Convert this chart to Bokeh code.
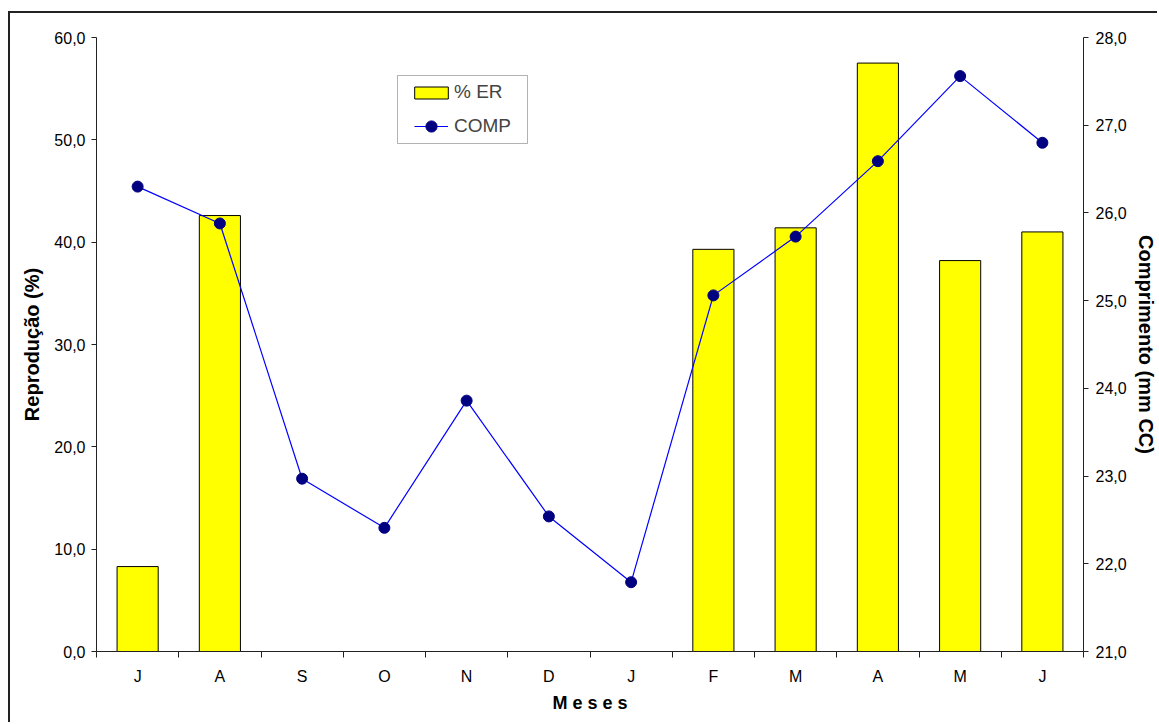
from bokeh.plotting import figure
from bokeh.models import (Range1d, LinearAxis, FixedTicker, CustomJSTickFormatter,
                          Legend, LegendItem, ColumnDataSource, BoxAnnotation)
from bokeh.embed import file_html
from bokeh.resources import INLINE

# Monthly data
months = ["J", "A", "S", "O", "N", "D", "J", "F", "M", "A", "M", "J"]
er_pct = [8.3, 42.6, 0, 0, 0, 0, 0, 39.3, 41.4, 57.5, 38.2, 41.0]
comp_mm = [26.30, 25.88, 22.97, 22.41, 23.86, 22.54, 21.79, 25.06, 25.73, 26.59, 27.56, 26.80]

FONT = "Liberation Sans"
AXIS_COLOR = "#222222"

xc = [i + 0.5 for i in range(len(months))]
bar_idx = [i for i, v in enumerate(er_pct) if v > 0]
bars = ColumnDataSource(dict(x=[xc[i] for i in bar_idx], top=[er_pct[i] for i in bar_idx]))
line = ColumnDataSource(dict(x=xc, y=comp_mm))

p = figure(width=1149, height=711, output_backend="svg", toolbar_location=None,
           x_range=Range1d(0, len(months)), y_range=Range1d(0, 60),
           min_border_left=86, min_border_right=76, min_border_top=24, min_border_bottom=73)
# page frame: left and top edges
p.styles = {"margin-left": "8px", "margin-top": "11px",
            "border-left": "2px solid #222222", "border-top": "2px solid #222222"}
p.extra_y_ranges = {"comp": Range1d(21, 28)}
p.xgrid.visible = False
p.ygrid.visible = False
p.outline_line_color = None
p.background_fill_color = "white"
p.border_fill_color = "white"

vb = p.vbar(x="x", top="top", width=0.5, source=bars, fill_color="#FFFF00",
            line_color="black", line_width=1)
ln = p.line(x="x", y="y", source=line, line_color="#0000FF", line_width=1.2,
            y_range_name="comp")
sc = p.scatter(x="x", y="y", source=line, size=11, fill_color="#000080",
               line_color="#000080", y_range_name="comp")

comma_fmt = CustomJSTickFormatter(code="return tick.toFixed(1).replace('.', ',');")

# left axis
ya = p.yaxis[0]
ya.ticker = FixedTicker(ticks=[0, 10, 20, 30, 40, 50, 60], minor_ticks=[])
ya.formatter = comma_fmt
ya.axis_label = "Reprodução (%)"

# right axis
ra = LinearAxis(y_range_name="comp", axis_label="Comprimento (mm CC)")
ra.ticker = FixedTicker(ticks=[21, 22, 23, 24, 25, 26, 27, 28], minor_ticks=[])
ra.formatter = comma_fmt
p.add_layout(ra, "right")

# bottom axis: labels at month centres, ticks at month boundaries
xa = p.xaxis[0]
xa.ticker = FixedTicker(ticks=xc, minor_ticks=list(range(len(months) + 1)))
xa.formatter = CustomJSTickFormatter(args=dict(labels=months),
                                     code="return labels[Math.floor(tick)];")
xa.axis_label = "M e s e s"

for ax in (ya, ra, xa):
    ax.axis_line_color = AXIS_COLOR
    ax.major_tick_line_color = AXIS_COLOR
    ax.minor_tick_line_color = AXIS_COLOR
    ax.major_label_text_font = FONT
    ax.major_label_text_font_size = "16px"
    ax.major_label_text_color = "black"
    ax.axis_label_text_font = FONT
    ax.axis_label_text_font_style = "bold"
    ax.axis_label_text_font_size = "20px"
    ax.axis_label_text_color = "black"

for ax in (ya, ra):
    ax.major_tick_in = 0
    ax.major_tick_out = 5
    ax.minor_tick_out = 0

ya.major_label_standoff = 6
ya.axis_label_standoff = 8
ra.major_label_standoff = 7
ra.axis_label_standoff = 5

xa.major_tick_in = 0
xa.major_tick_out = 0
xa.minor_tick_in = 0
xa.minor_tick_out = 6
xa.major_label_standoff = 10
xa.axis_label_standoff = 5
xa.axis_label_text_font_size = "18px"

# legend frame (screen offsets from the plot area's lower-left corner)
p.add_layout(BoxAnnotation(left=301, right=431, bottom=508, top=576,
                           left_units="screen", right_units="screen",
                           top_units="screen", bottom_units="screen",
                           fill_color="white", fill_alpha=1,
                           line_color="black", line_width=1))


def legend_box(item, loc, gw, gh, standoff):
    lg = Legend(items=[item], location=loc, orientation="vertical")
    lg.border_line_color = None
    lg.background_fill_alpha = 0
    lg.label_text_font = FONT
    lg.label_text_font_size = "19px"
    lg.glyph_width = gw
    lg.glyph_height = gh
    lg.label_standoff = standoff
    lg.label_height = 22
    lg.padding = 0
    lg.margin = 0
    return lg


p.add_layout(legend_box(LegendItem(label="% ER", renderers=[vb]), (314, 548), 42, 15, 2), "center")
p.add_layout(legend_box(LegendItem(label="COMP", renderers=[ln, sc]), (318, 511), 34, 28, 6), "center")

open("out.html", "w").write(file_html(p, INLINE))
